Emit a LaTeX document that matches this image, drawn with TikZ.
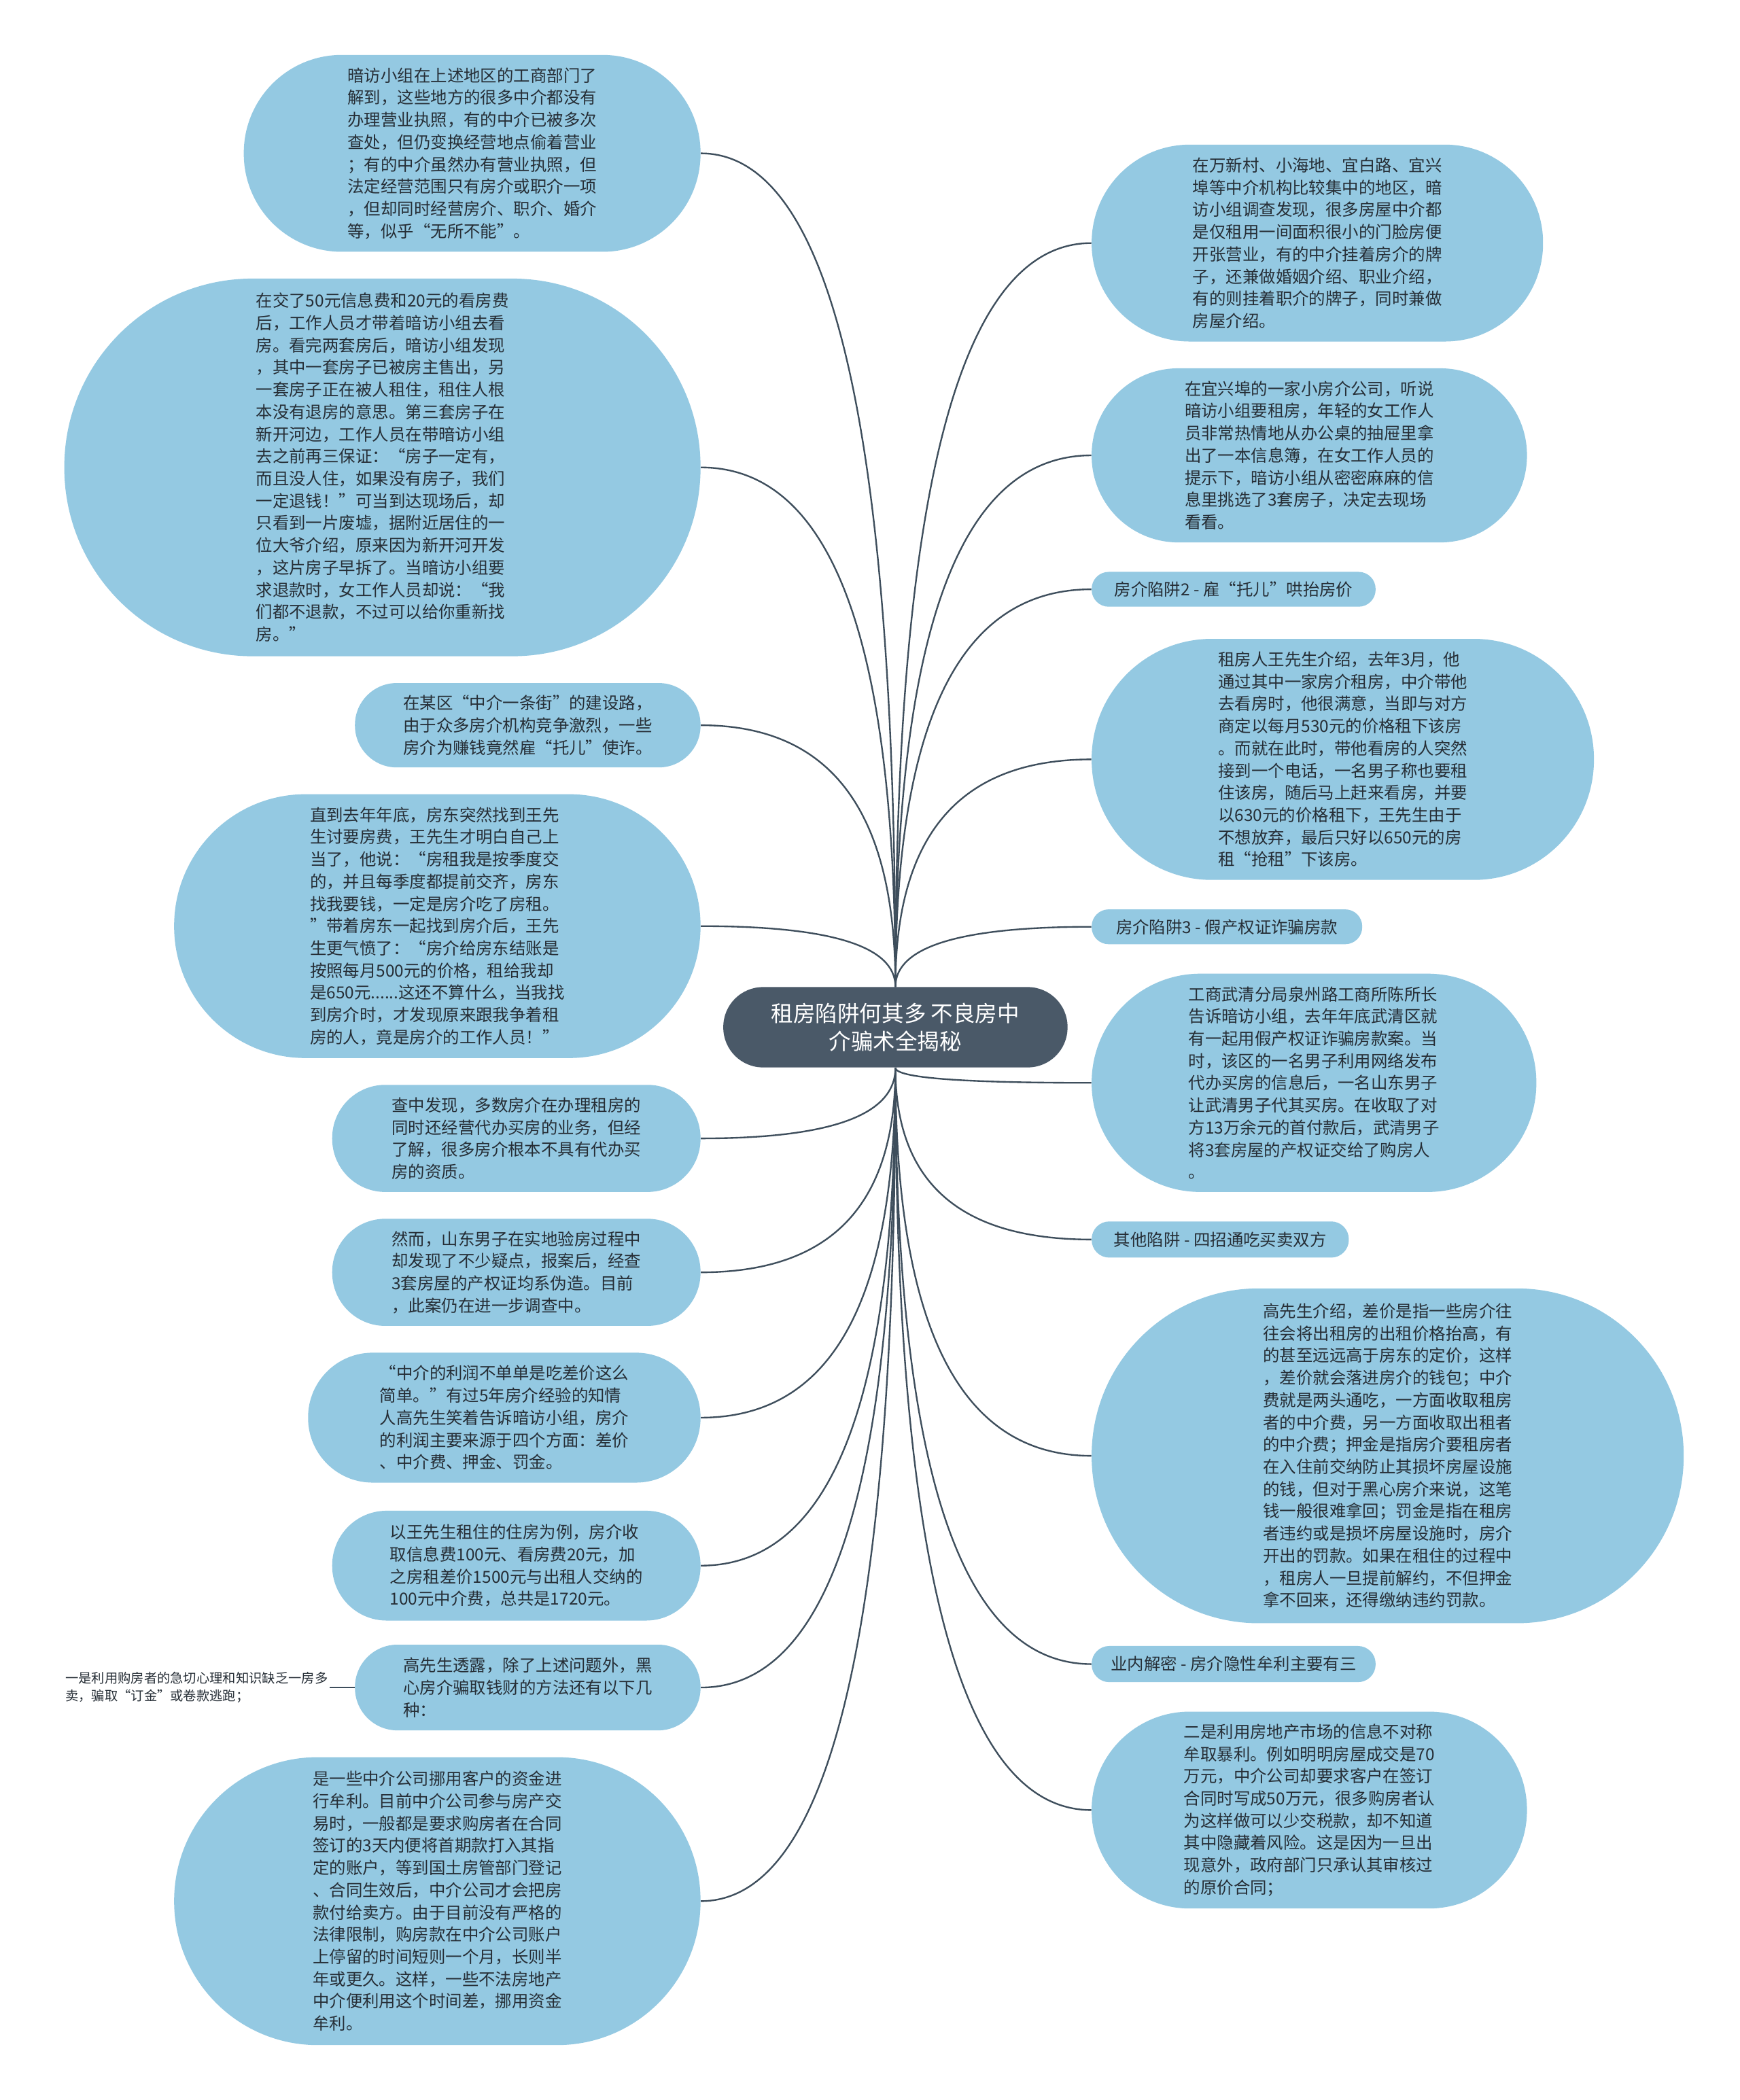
\documentclass[tikz,border=0pt]{standalone}
\usepackage{fontspec}
\setmainfont{Noto Sans CJK SC}
\usetikzlibrary{calc}
\definecolor{bubble}{RGB}{148,201,226}
\definecolor{rootfill}{RGB}{74,89,104}
\definecolor{branchline}{RGB}{62,78,92}
\definecolor{ink}{RGB}{38,46,54}
\tikzset{
    line cap=round,
    line join=round,
    topic/.style 2 args={
        rectangle,
        fill=bubble,
        text=ink,
        align=left,
        inner sep=0pt,
        minimum width=#1pt,
        minimum height=#2pt,
        rounded corners={(#2*0.5-0.3)*1pt},
        font=\fontsize{12.4}{16.6}\selectfont
    },
    rootnode/.style={
        rectangle,
        fill=rootfill,
        text=white,
        align=center,
        inner sep=0pt,
        minimum width=257pt,
        minimum height=60pt,
        rounded corners=29.7pt,
        font=\fontsize{16.5}{21}\selectfont
    },
    note/.style={
        align=left,
        text=ink,
        inner sep=1pt,
        font=\fontsize{9.8}{13.5}\selectfont
    },
    branch/.style={
        draw=branchline,
        line width=1.2pt
    }
}
\begin{document}
\begin{tikzpicture}[x=1pt, y=-1pt]
\useasboundingbox (0,0) rectangle (1299,1568);
\fill[white] (0,0) rectangle (1299,1568);

\node[rootnode] (root) at (668.5,767) {租房陷阱何其多 不良房中\\介骗术全揭秘};

% left side
\node[topic={341}{147}] (l1) at (352.5,114.5) {暗访小组在上述地区的工商部门了\\解到，这些地方的很多中介都没有\\办理营业执照，有的中介已被多次\\查处，但仍变换经营地点偷着营业\\；有的中介虽然办有营业执照，但\\法定经营范围只有房介或职介一项\\，但却同时经营房介、职介、婚介\\等，似乎“无所不能”。};
\node[topic={475}{282}] (l2) at (285.5,349) {在交了50元信息费和20元的看房费\\后，工作人员才带着暗访小组去看\\房。看完两套房后，暗访小组发现\\，其中一套房子已被房主售出，另\\一套房子正在被人租住，租住人根\\本没有退房的意思。第三套房子在\\新开河边，工作人员在带暗访小组\\去之前再三保证：“房子一定有，\\而且没人住，如果没有房子，我们\\一定退钱！”可当到达现场后，却\\只看到一片废墟，据附近居住的一\\位大爷介绍，原来因为新开河开发\\，这片房子早拆了。当暗访小组要\\求退款时，女工作人员却说：“我\\们都不退款，不过可以给你重新找\\房。”};
\node[topic={258}{63}] (l3) at (394,541.5) {在某区“中介一条街”的建设路，\\由于众多房介机构竞争激烈，一些\\房介为赚钱竟然雇“托儿”使诈。};
\node[topic={393}{197}] (l4) at (326.5,691.5) {直到去年年底，房东突然找到王先\\生讨要房费，王先生才明白自己上\\当了，他说：“房租我是按季度交\\的，并且每季度都提前交齐，房东\\找我要钱，一定是房介吃了房租。\\”带着房东一起找到房介后，王先\\生更气愤了：“房介给房东结账是\\按照每月500元的价格，租给我却\\是650元......这还不算什么，当我找\\到房介时，才发现原来跟我争着租\\房的人，竟是房介的工作人员！”};
\node[topic={275}{80}] (l5) at (385.5,850) {查中发现，多数房介在办理租房的\\同时还经营代办买房的业务，但经\\了解，很多房介根本不具有代办买\\房的资质。};
\node[topic={275}{80}] (l6) at (385.5,950) {然而，山东男子在实地验房过程中\\却发现了不少疑点，报案后，经查\\3套房屋的产权证均系伪造。目前\\，此案仍在进一步调查中。};
\node[topic={293}{97}] (l7) at (376.5,1058.5) {“中介的利润不单单是吃差价这么\\简单。”有过5年房介经验的知情\\人高先生笑着告诉暗访小组，房介\\的利润主要来源于四个方面：差价\\、中介费、押金、罚金。};
\node[topic={275}{82}] (l8) at (385.5,1169) {以王先生租住的住房为例，房介收\\取信息费100元、看房费20元，加\\之房租差价1500元与出租人交纳的\\100元中介费，总共是1720元。};
\node[topic={258}{64}] (l9) at (394,1260) {高先生透露，除了上述问题外，黑\\心房介骗取钱财的方法还有以下几\\种：};
\node[note, anchor=east] (leaf) at (246,1260) {一是利用购房者的急切心理和知识缺乏一房多\\卖，骗取“订金”或卷款逃跑；};
\node[topic={393}{215}] (l10) at (326.5,1419.5) {是一些中介公司挪用客户的资金进\\行牟利。目前中介公司参与房产交\\易时，一般都是要求购房者在合同\\签订的3天内便将首期款打入其指\\定的账户，等到国土房管部门登记\\、合同生效后，中介公司才会把房\\款付给卖方。由于目前没有严格的\\法律限制，购房款在中介公司账户\\上停留的时间短则一个月，长则半\\年或更久。这样，一些不法房地产\\中介便利用这个时间差，挪用资金\\牟利。};

% right side
\node[topic={337}{147}] (r1) at (983.5,181.5) {在万新村、小海地、宜白路、宜兴\\埠等中介机构比较集中的地区，暗\\访小组调查发现，很多房屋中介都\\是仅租用一间面积很小的门脸房便\\开张营业，有的中介挂着房介的牌\\子，还兼做婚姻介绍、职业介绍，\\有的则挂着职介的牌子，同时兼做\\房屋介绍。};
\node[topic={325}{130}] (r2) at (977.5,340) {在宜兴埠的一家小房介公司，听说\\暗访小组要租房，年轻的女工作人\\员非常热情地从办公桌的抽屉里拿\\出了一本信息簿，在女工作人员的\\提示下，暗访小组从密密麻麻的信\\息里挑选了3套房子，决定去现场\\看看。};
\node[topic={212}{26}] (r3) at (921,440) {房介陷阱2 - 雇“托儿”哄抬房价};
\node[topic={375}{180}] (r4) at (1002.5,567) {租房人王先生介绍，去年3月，他\\通过其中一家房介租房，中介带他\\去看房时，他很满意，当即与对方\\商定以每月530元的价格租下该房\\。而就在此时，带他看房的人突然\\接到一个电话，一名男子称也要租\\住该房，随后马上赶来看房，并要\\以630元的价格租下，王先生由于\\不想放弃，最后只好以650元的房\\租“抢租”下该房。};
\node[topic={202}{26}] (r5) at (916,692) {房介陷阱3 - 假产权证诈骗房款};
\node[topic={332}{163}] (r6) at (981,808.5) {工商武清分局泉州路工商所陈所长\\告诉暗访小组，去年年底武清区就\\有一起用假产权证诈骗房款案。当\\时，该区的一名男子利用网络发布\\代办买房的信息后，一名山东男子\\让武清男子代其买房。在收取了对\\方13万余元的首付款后，武清男子\\将3套房屋的产权证交给了购房人\\。};
\node[topic={192}{27}] (r7) at (911,925.5) {其他陷阱 - 四招通吃买卖双方};
\node[topic={442}{250}] (r8) at (1036,1087) {高先生介绍，差价是指一些房介往\\往会将出租房的出租价格抬高，有\\的甚至远远高于房东的定价，这样\\，差价就会落进房介的钱包；中介\\费就是两头通吃，一方面收取租房\\者的中介费，另一方面收取出租者\\的中介费；押金是指房介要租房者\\在入住前交纳防止其损坏房屋设施\\的钱，但对于黑心房介来说，这笔\\钱一般很难拿回；罚金是指在租房\\者违约或是损坏房屋设施时，房介\\开出的罚款。如果在租住的过程中\\，租房人一旦提前解约，不但押金\\拿不回来，还得缴纳违约罚款。};
\node[topic={212}{27}] (r9) at (921,1242.5) {业内解密 - 房介隐性牟利主要有三};
\node[topic={325}{147}] (r10) at (977.5,1351.5) {二是利用房地产市场的信息不对称\\牟取暴利。例如明明房屋成交是70\\万元，中介公司却要求客户在签订\\合同时写成50万元，很多购房者认\\为这样做可以少交税款，却不知道\\其中隐藏着风险。这是因为一旦出\\现意外，政府部门只承认其审核过\\的原价合同；};

% connectors
\foreach \n in {l1,l2,l3,l4} {
    \draw[branch] (root.north) .. controls ($(root.north)!0.67!(root.north |- \n.east)$) and ($(\n.east)!0.67!(root.north |- \n.east)$) .. (\n.east);
}
\foreach \n in {l5,l6,l7,l8,l9,l10} {
    \draw[branch] (root.south) .. controls ($(root.south)!0.67!(root.south |- \n.east)$) and ($(\n.east)!0.67!(root.south |- \n.east)$) .. (\n.east);
}
\foreach \n in {r1,r2,r3,r4,r5} {
    \draw[branch] (root.north) .. controls ($(root.north)!0.67!(root.north |- \n.west)$) and ($(\n.west)!0.67!(root.north |- \n.west)$) .. (\n.west);
}
\foreach \n in {r6,r7,r8,r9,r10} {
    \draw[branch] (root.south) .. controls ($(root.south)!0.67!(root.south |- \n.west)$) and ($(\n.west)!0.67!(root.south |- \n.west)$) .. (\n.west);
}
\draw[branch] (l9.west) -- (leaf.east);

\end{tikzpicture}
\end{document}
